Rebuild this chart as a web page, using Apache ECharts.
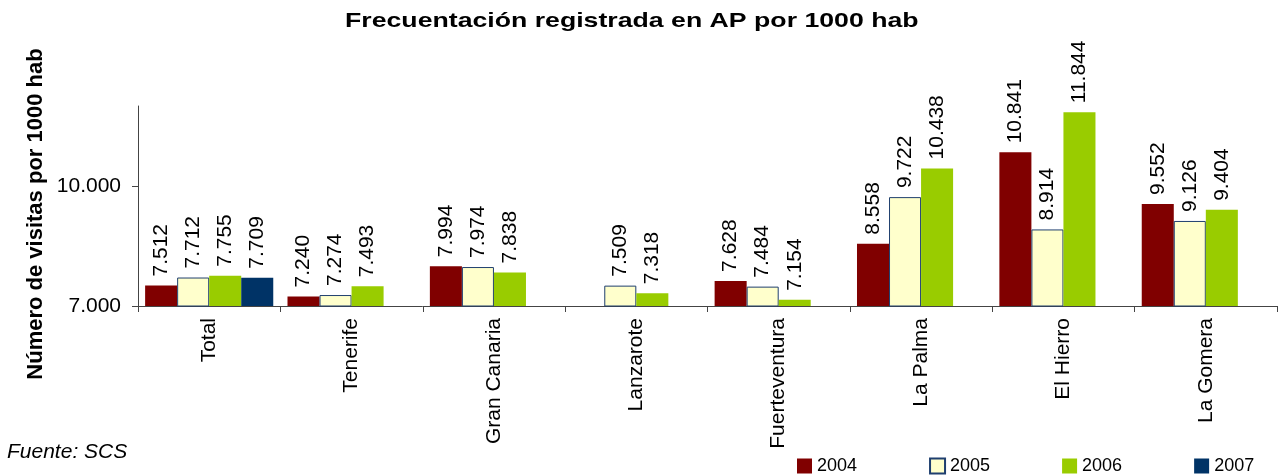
<!DOCTYPE html>
<html>
<head>
<meta charset="utf-8">
<script src="https://cdn.jsdelivr.net/npm/echarts@6/dist/echarts.min.js"></script>
<style>
  html, body { margin: 0; padding: 0; background: #fff; }
  #chart { width: 1283px; height: 475px; }
</style>
</head>
<body>
<div id="chart"></div>
<script>
const islands = ['Total', 'Tenerife', 'Gran Canaria', 'Lanzarote', 'Fuerteventura', 'La Palma', 'El Hierro', 'La Gomera'];
const years = ['2004', '2005', '2006', '2007'];
const v2004 = [7512, 7240, 7994, null, 7628, 8558, 10841, 9552];
const v2005 = [7712, 7274, 7974, 7509, 7484, 9722, 8914, 9126];
const v2006 = [7755, 7493, 7838, 7318, 7154, 10438, 11844, 9404];
const v2007 = [7709, null, null, null, null, null, null, null];
const yTicks = [7000, 10000];

const font = 'Liberation Sans, Arial, sans-serif';

// 7512 -> "7.512"
function esFmt(v) {
  return String(Math.round(v)).replace(/\B(?=(\d{3})+(?!\d))/g, '.');
}

function barSeries(name, data, color, border) {
  return {
    name: name,
    type: 'bar',
    data: data,
    barGap: 0,
    barCategoryGap: '10%',
    itemStyle: {
      color: color,
      borderColor: border || color,
      borderWidth: border ? 1 : 0
    },
    label: {
      show: true,
      position: 'top',
      rotate: 90,
      align: 'left',
      verticalAlign: 'middle',
      distance: 9,
      fontFamily: font,
      fontSize: 21,
      color: '#000',
      formatter: p => esFmt(p.value)
    }
  };
}

const chart = echarts.init(document.getElementById('chart'));
chart.setOption({
  animation: false,
  textStyle: { fontFamily: font },
  legend: {
    data: years,
    left: 792,
    top: 452,
    icon: 'rect',
    itemWidth: 15,
    itemHeight: 15,
    itemGap: 72,
    textStyle: { fontFamily: font, fontSize: 18, color: '#000' }
  },
  grid: { left: 138, right: 6, top: 106, bottom: 169 },
  xAxis: {
    type: 'category',
    data: islands,
    axisLine: { lineStyle: { color: '#444' } },
    axisTick: { show: true, length: 6, lineStyle: { color: '#444' } },
    axisLabel: {
      rotate: 90,
      margin: 12,
      fontFamily: font,
      fontSize: 21,
      color: '#000'
    }
  },
  yAxis: {
    type: 'value',
    min: 7000,
    max: 12000,
    interval: 3000,
    splitLine: { show: false },
    axisLine: { show: true, lineStyle: { color: '#444' } },
    axisTick: { show: true, length: 6, customValues: yTicks, lineStyle: { color: '#444' } },
    axisLabel: {
      customValues: yTicks,
      fontFamily: font,
      fontSize: 21,
      color: '#000',
      margin: 17,
      formatter: v => esFmt(v)
    }
  },
  graphic: [
    {
      // chart title, stretched like the original
      type: 'text',
      x: 345,
      y: 21,
      scaleX: 1.27,
      style: {
        text: 'Frecuentación registrada en AP por 1000 hab',
        font: 'bold 21px ' + font,
        fill: '#000',
        align: 'left',
        verticalAlign: 'middle'
      }
    },
    {
      // y axis title
      type: 'text',
      x: 36,
      y: 214,
      rotation: Math.PI / 2,
      style: {
        text: 'Número de visitas por 1000 hab',
        font: 'bold 22px ' + font,
        fill: '#000',
        align: 'center',
        verticalAlign: 'middle'
      }
    },
    {
      type: 'text',
      x: 7,
      y: 452,
      style: {
        text: 'Fuente: SCS',
        font: 'italic 21px ' + font,
        fill: '#000',
        align: 'left',
        verticalAlign: 'middle'
      }
    }
  ],
  series: [
    barSeries('2004', v2004, '#800000'),
    barSeries('2005', v2005, '#FFFFCC', '#1F3F6F'),
    barSeries('2006', v2006, '#99CC00'),
    barSeries('2007', v2007, '#003366')
  ]
});
</script>
</body>
</html>
